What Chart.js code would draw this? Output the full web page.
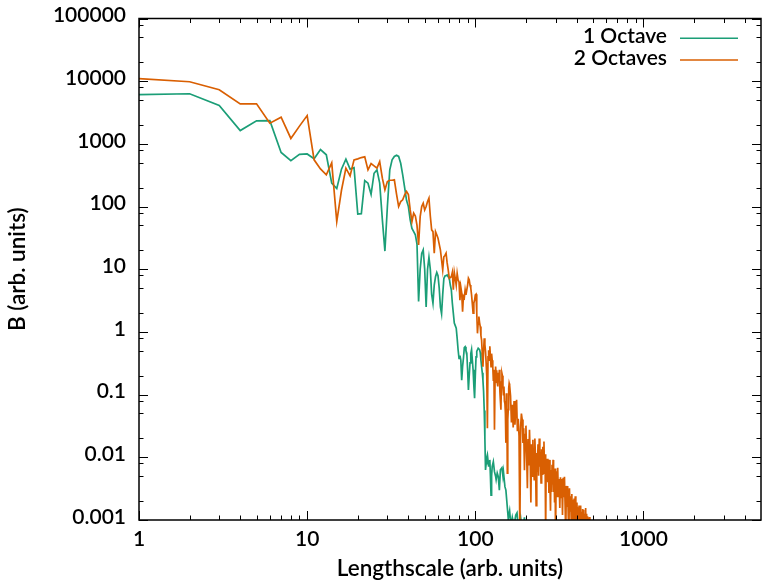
<!DOCTYPE html>
<html><head><meta charset="utf-8">
<script src="https://cdn.jsdelivr.net/npm/chart.js@4/dist/chart.umd.min.js"></script>
<style>html,body{margin:0;padding:0;background:#fff}canvas{display:block}</style>
</head><body>
<canvas id="c" width="762" height="585"></canvas>
<script>
const seriesNames = ['1 Octave', '2 Octaves'];
const seriesColors = ['#1b9e77', '#d95f02'];

const kGreen = [
  1,2,3,4,5,6,7,8,9,10,11,12,13,14,15,16,17,18,19,20,
  21,22,23,24,25,26,27,28,29,30,31,32,33,34,35,36,37,38,39,40,
  41,42,43,44,45,46,47,48,49,50,51,52,53,54,55,56,57,58,59,60,
  61,62,63,64,65,66,67,68,69,70,71,72,73,74,75,76,77,78,79,80,
  81,82,83,84,85,86,87,88,89,90,91,92,93,94,95,96,97,98,99,100,
  101,102,103,104,105,106,107,108,109,110,111,112,113,114,115,116,117,118,119,120,
  121,122,123,124,125,126,128,130,132,133,135,137,139,141,144,146,147,150,152,155,
  157,160,163,166,170,174,177,181,186,191,196,200
];
const bGreen = [
  6100,6300,4100,1630,2330,2350,730,540,680,690,
  580,810,670,236,194,395,570,395,417,76,
  77,260,236,157,340,385,237,62,19.5,100,
  385,556,631,661,631,490,321,200,126,100,
  61.4,44.7,39.8,35.5,25.1,3.05,10,17.8,20.4,10,
  2.51,10,15.6,10,3.98,2.88,5.6,7.6,8.9,7.9,
  5.0,2.5,1.95,3.98,7.1,7.8,7.9,8.1,7.6,7.2,
  5.6,4.7,2.9,2.0,1.38,1.26,1.15,0.79,0.52,0.38,
  0.42,0.355,0.17,0.28,0.38,0.56,0.58,0.50,0.46,0.25,
  0.119,0.20,0.32,0.45,0.52,0.355,0.25,0.14,0.088,0.20,
  0.40,0.49,0.52,0.55,0.55,0.52,0.47,0.355,0.28,0.224,
  0.17,0.112,0.056,0.02,0.0063,0.0079,0.010,0.011,0.0089,0.0071,
  0.0081,0.0091,0.005,0.0025,0.005,0.0071,0.0085,0.0059,0.005,0.0044,
  0.0056,0.0049,0.003,0.0063,0.0068,0.005,0.0059,0.0034,0.003,0.0016,
  0.00105,0.0014,0.0008,0.0011,0.0008,0.0012,0.0013,0.00063,0.0011,0.00063,
  0.0011,0.0005
];

const kOrange = [
  1,2,3,4,5,6,7,8,9,10,11,12,13,14,15,16,17,18,19,20,
  21,22,23,24,25,26,27,28,29,30,31,32,33,34,35,36,37,38,39,40,
  41,42,43,44,45,46,47,48,49,50,51,52,53,54,55,56,57,58,59,60,
  61,62,63,64,65,66,67,68,69,70,71,72,73,74,75,76,77,78,79,80,
  81,82,83,84,85,86,87,88,89,90,91,92,93,94,95,96,97,98,99,100,
  101,102,103,104,105,106,107,108,109,110,111,112,113,114,115,116,117,118,119,120,
  121,122,123,124,125,126,127,128,129,130,131,132,133,134,135,136,137,138,139,140,
  141,142,143,144,145,146,147,148,149,150,151,152,153,154,155,156,157,158,159,160,
  162,164,166,168,170,172,174,176,178,180,182,184,186,188,190,192,194,196,198,200,
  202,204,206,208,210,212,214,216,218,220,222,224,226,228,230,232,234,236,238,240,
  242,244,246,248,250,252,254,256,258,260,262,264,266,268,270,272,274,276,278,280,
  282,284,286,288,290,292,294,296,298,300,
  303,306,309,312,315,318,321,324,327,330,333,336,339,342,345,348,351,354,357,360,
  363,366,369,372,375,378,381,384,387,390,393,396,399,402,405,408,411,414,417,420,
  423,426,429,432,435,438,441,444,447,450,453,456,459,462,465,468,471,474,477,480
];
const bOrange = [
  11000,9800,7300,4350,4350,2140,2670,1220,1920,2830,
  556,398,321,498,57.7,182,410,309,556,577,
  605,621,385,485,447,410,522,284,185,251,
  263,263,267,158,100,120,128,154,174,155,
  88.5,57.7,78.5,70.8,50.1,24.5,69.2,100,113,88.5,
  100,120,136,70.8,42.5,39.8,18,39.8,35.5,31.3,
  25.1,20.4,14.1,9.8,15.8,16.6,18,12.6,9.8,7.2,
  7.4,7.6,8.9,4.7,8.9,7.1,5.6,8.6,6.8,6.3,
  3.2,5.2,4.2,2.1,3.7,3.5,4.7,3.9,4.7,5.6,
  7.2,6.8,5.6,5.0,3.9,2.8,2.0,2.9,3.2,3.9,
  4.0,2.0,0.95,1.41,1.76,1.41,1.22,0.87,0.74,0.45,
  0.28,0.50,0.79,0.63,0.49,0.32,0.195,0.029,0.40,0.51,
  0.355,0.59,0.40,0.28,0.45,0.355,0.28,0.17,0.25,0.0275,
  0.158,0.28,0.20,0.245,0.158,0.135,0.224,0.178,0.25,0.112,
  0.079,0.0575,0.158,0.219,0.20,0.135,0.10,0.135,0.079,0.072,
  0.05,0.017,0.105,0.063,0.0056,0.04,0.0575,0.126,0.151,0.141,
  0.095,0.036,0.069,0.030,0.079,0.033,0.056,0.083,0.026,0.041,
  0.022,0.0006,0.031,0.05,0.04,0.017,0.029,0.0062,0.023,0.032,
  0.011,0.0032,0.0195,0.0074,0.0275,0.0107,0.0019,0.0162,0.005,0.019,
  0.0083,0.0044,0.02,0.0095,0.0017,0.0117,0.0059,0.0162,0.0051,0.02,
  0.0071,0.0123,0.0039,0.0135,0.0054,0.0148,0.0081,0.0178,0.0054,0.0112,
  0.0006,0.0087,0.0041,0.0095,0.004,0.0087,0.0027,0.0091,0.0036,0.0014,
  0.0063,0.0028,0.0076,0.0037,0.0091,0.0028,0.0062,0.0019,0.0066,0.0006,
  0.006,0.0023,0.0068,0.0023,0.0045,0.00155,0.0048,0.0023,0.0045,0.0012,
  0.0047,0.0023,0.0049,0.0017,0.0006,0.0035,0.00166,0.0035,0.00117,0.0006,
  0.0032,0.0014,0.0024,0.00093,0.0026,0.0006,0.0021,0.00117,0.0022,0.00087,
  0.0024,0.00117,0.0006,0.0019,0.00093,0.0016,0.0007,0.0017,0.00093,0.0006,
  0.0017,0.0007,0.00135,0.0006,0.0015,0.0008,0.00145,0.0006,0.00126,0.0007,
  0.00155,0.0006,0.00126,0.0006,0.00115,0.0006,0.00107,0.0006,0.00112,0.0006
];

const xTickValues = [1, 10, 100, 1000];
const xTickLabels = ['1', '10', '100', '1000'];
const yTickValues = [0.001, 0.01, 0.1, 1, 10, 100, 1000, 10000, 100000];
const yTickLabels = ['0.001', '0.01', '0.1', '1', '10', '100', '1000', '10000', '100000'];
const xMinorMultipliers = [2, 3, 4, 5, 6, 7, 8, 9];
const yMinorMultipliers = [2, 5, 8];
const xRange = [1, 5000];
const yRange = [0.001, 100000];
const xTitle = 'Lengthscale (arb. units)';
const yTitle = 'B (arb. units)';

const FONT = 'Lato';
const FSIZE = 21;
const FWEIGHT = '600';
Chart.defaults.font.family = FONT;
Chart.defaults.font.size = FSIZE;
Chart.defaults.font.weight = FWEIGHT;
Chart.defaults.color = '#000';

const toPoints = (ks, bs) => ks.map((k, i) => ({x: k, y: bs[i]}));

const framePlugin = {
  id: 'gnuframe',
  afterDatasetsDraw(chart) {
    const {ctx, chartArea: a, scales: {x, y}} = chart;
    ctx.save();
    ctx.strokeStyle = '#000';
    ctx.lineWidth = 1;
    ctx.beginPath();
    xTickValues.forEach(v => {
      const list = [[v, 9]];
      xMinorMultipliers.forEach(m => { if (v * m < x.max) list.push([v * m, 4.5]); });
      list.forEach(([t, len]) => {
        const p = Math.round(x.getPixelForValue(t)) + 0.5;
        ctx.moveTo(p, a.bottom); ctx.lineTo(p, a.bottom - len);
        ctx.moveTo(p, a.top); ctx.lineTo(p, a.top + len);
      });
    });
    yTickValues.forEach(v => {
      const list = [[v, 9]];
      yMinorMultipliers.forEach(m => { if (v * m < y.max) list.push([v * m, 4.5]); });
      list.forEach(([t, len]) => {
        const p = Math.round(y.getPixelForValue(t)) + 0.5;
        ctx.moveTo(a.left, p); ctx.lineTo(a.left + len, p);
        ctx.moveTo(a.right, p); ctx.lineTo(a.right - len, p);
      });
    });
    ctx.stroke();
    ctx.lineWidth = 1.5;
    ctx.strokeRect(a.left, a.top, a.right - a.left, a.bottom - a.top);
    ctx.restore();
  },
  afterDraw(chart) {
    const {ctx} = chart;
    ctx.save();
    ctx.font = FWEIGHT + ' ' + FSIZE + 'px ' + FONT;
    ctx.fillStyle = '#000';
    ctx.textAlign = 'right';
    ctx.textBaseline = 'alphabetic';
    chart.data.datasets.forEach((ds, i) => {
      const yb = 43 + 21.7 * i;
      ctx.fillText(ds.label, 667, yb);
      ctx.strokeStyle = ds.borderColor;
      ctx.lineWidth = 1.6;
      ctx.beginPath();
      ctx.moveTo(680, yb - 4.7);
      ctx.lineTo(738, yb - 4.7);
      ctx.stroke();
    });
    ctx.restore();
  }
};

new Chart(document.getElementById('c'), {
  type: 'line',
  data: {
    datasets: [
      {label: seriesNames[0], data: toPoints(kGreen, bGreen), borderColor: seriesColors[0], borderWidth: 1.7, pointRadius: 0, tension: 0, fill: false, clip: 0, order: 1},
      {label: seriesNames[1], data: toPoints(kOrange, bOrange), borderColor: seriesColors[1], borderWidth: 1.7, pointRadius: 0, tension: 0, fill: false, clip: 0, order: 0}
    ]
  },
  options: {
    responsive: false,
    animation: false,
    devicePixelRatio: 1,
    events: [],
    layout: {padding: {top: 18.5, right: 1, left: 0, bottom: 0}},
    plugins: {legend: {display: false}, tooltip: {enabled: false}},
    scales: {
      x: {
        type: 'logarithmic', position: 'bottom', min: xRange[0], max: xRange[1],
        afterBuildTicks: s => { s.ticks = xTickValues.map(v => ({value: v})); },
        afterFit: s => { s.height = 65; s.paddingLeft = 0; s.paddingRight = 0; },
        grid: {display: false, drawTicks: false, tickLength: 0},
        border: {display: false},
        ticks: {autoSkip: false, maxRotation: 0, minRotation: 0, padding: 7, callback: (v, i) => xTickLabels[i]},
        title: {display: true, text: xTitle, font: {size: 22.5}, padding: {top: 0, bottom: 3}}
      },
      y: {
        type: 'logarithmic', position: 'left', min: yRange[0], max: yRange[1],
        afterBuildTicks: s => { s.ticks = yTickValues.map(v => ({value: v})); },
        afterFit: s => { s.width = 139; s.paddingTop = 0; s.paddingBottom = 0; },
        grid: {display: false, drawTicks: false, tickLength: 0},
        border: {display: false},
        ticks: {autoSkip: false, padding: 13, labelOffset: -3, callback: (v, i) => yTickLabels[i]},
        title: {display: true, text: yTitle, font: {size: 22.5}, padding: {top: 4, bottom: 0}}
      }
    }
  },
  plugins: [framePlugin]
});
</script>
</body></html>
